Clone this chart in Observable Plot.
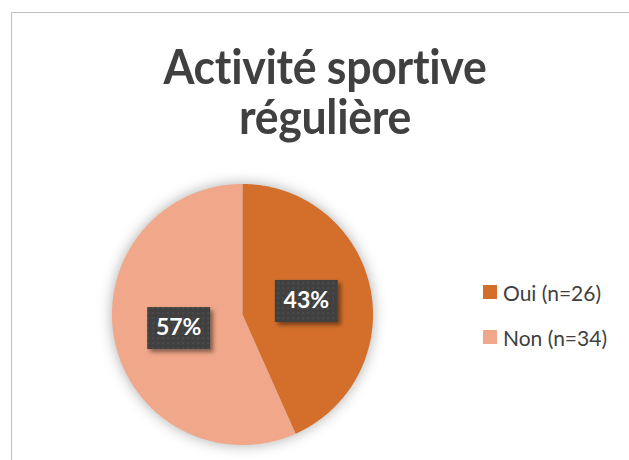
<!DOCTYPE html>
<html>
<head>
<meta charset="utf-8">
<script src="https://cdn.jsdelivr.net/npm/d3@7"></script>
<script src="https://cdn.jsdelivr.net/npm/@observablehq/plot@0.6"></script>
<style>
  html, body { margin: 0; padding: 0; background: #fff; }
  #wrap { position: relative; width: 629px; height: 460px; overflow: hidden; font-family: Lato, "Open Sans", sans-serif; }
  #frame { position: absolute; left: 11px; top: 12px; width: 700px; height: 600px; border: 1px solid #bfbfbf; box-sizing: border-box; }
  .tl { position: absolute; left: 0; width: 650px; text-align: center; font-weight: 700; font-size: 47px; line-height: 46px; height: 46px; color: #404040; letter-spacing: -0.3px; transform: scaleX(0.95); transform-origin: 325px 0; white-space: nowrap; }
  #chart { position: absolute; left: 0; top: 0; }
  #chart svg g[aria-label="geo"] { filter: drop-shadow(0px 0px 7px rgba(0,0,0,0.32)); }
  .leg { position: absolute; left: 483px; display: flex; align-items: center; font-size: 21px; color: #404040; height: 22px; }
  .leg .sw { width: 14px; height: 14px; margin-right: 6px; }
</style>
</head>
<body>
<div id="wrap">
  <div id="frame"></div>
  <div id="title"></div>
  <div id="chart"></div>
  <div id="legend"></div>
</div>
<script>
const categories = ["Oui (n=26)", "Non (n=34)"];
const counts = [26, 34];
const colors = ["#D36F2B", "#F1A789"];
const titleLines = ["Activité sportive", "régulière"];

const total = d3.sum(counts);
const pie = d3.pie().sort(null).value(d => d)(counts);

function ring(a0, a1) {
  const pts = [[0, 0]];
  const n = Math.max(2, Math.ceil((a1 - a0) / 0.01));
  for (let k = 0; k <= n; k++) {
    const a = a0 + (a1 - a0) * k / n;
    pts.push([Math.sin(a), -Math.cos(a)]);
  }
  pts.push([0, 0]);
  return pts;
}

const slices = pie.map((p, i) => ({
  category: categories[i],
  value: counts[i],
  share: counts[i] / total,
  geometry: {type: "Polygon", coordinates: [ring(p.startAngle, p.endAngle)]},
  cx: 0.5 * Math.sin((p.startAngle + p.endAngle) / 2),
  cy: -0.5 * Math.cos((p.startAngle + p.endAngle) / 2)
}));

const disk = {type: "Polygon", coordinates: [ring(0, 2 * Math.PI).slice(1, -1).concat([[0, -1]])]};

const fmt = d3.format(".0%");

const titleEl = document.getElementById("title");
const titleTops = [43, 93];
titleLines.forEach((t, i) => {
  const d = document.createElement("div");
  d.className = "tl";
  d.style.top = titleTops[i] + "px";
  d.textContent = t;
  titleEl.appendChild(d);
});

const plot = Plot.plot({
  width: 629,
  height: 460,
  marginLeft: 111.5,
  marginRight: 256.5,
  marginTop: 183.5,
  marginBottom: 15.5,
  style: {background: "transparent", overflow: "visible"},
  projection: {type: "identity", domain: disk},
  color: {domain: categories, range: colors},
  marks: [
    Plot.geo(slices, {geometry: d => d.geometry, fill: d => d.category, stroke: "none"}),
    Plot.text(slices, {
      x: "cx", y: "cy",
      text: d => fmt(d.share),
      fill: "white",
      fontSize: 23,
      fontWeight: 700,
      fontFamily: "Lato, 'Open Sans', sans-serif",
      render(index, scales, values, dimensions, context, next) {
        const g = next(index, scales, values, dimensions, context);
        const ns = "http://www.w3.org/2000/svg";
        const defs = document.createElementNS(ns, "defs");
        defs.innerHTML = `<pattern id="dots" width="5" height="5" patternUnits="userSpaceOnUse"><rect width="5" height="5" fill="#404040"/><rect x="2" y="2" width="1.3" height="1.3" fill="#595959"/></pattern><filter id="sh" x="-30%" y="-30%" width="170%" height="170%"><feDropShadow dx="3" dy="3" stdDeviation="2.2" flood-color="#000" flood-opacity="0.45"/></filter>`;
        g.insertBefore(defs, g.firstChild);
        let ref = defs.nextSibling;
        for (const i of index) {
          const r = document.createElementNS(ns, "rect");
          r.setAttribute("x", values.x[i] - 31.5);
          r.setAttribute("y", values.y[i] - 21);
          r.setAttribute("width", 63);
          r.setAttribute("height", 42);
          r.setAttribute("fill", "url(#dots)");
          r.setAttribute("filter", "url(#sh)");
          g.insertBefore(r, ref);
        }
        return g;
      }
    })
  ]
});
document.getElementById("chart").appendChild(plot);

const legend = document.getElementById("legend");
const legTops = [281, 326];
categories.forEach((c, i) => {
  const row = document.createElement("div");
  row.className = "leg";
  row.style.top = legTops[i] + "px";
  row.innerHTML = `<span class="sw" style="background:${colors[i]}"></span><span>${c}</span>`;
  legend.appendChild(row);
});
</script>
</body>
</html>
